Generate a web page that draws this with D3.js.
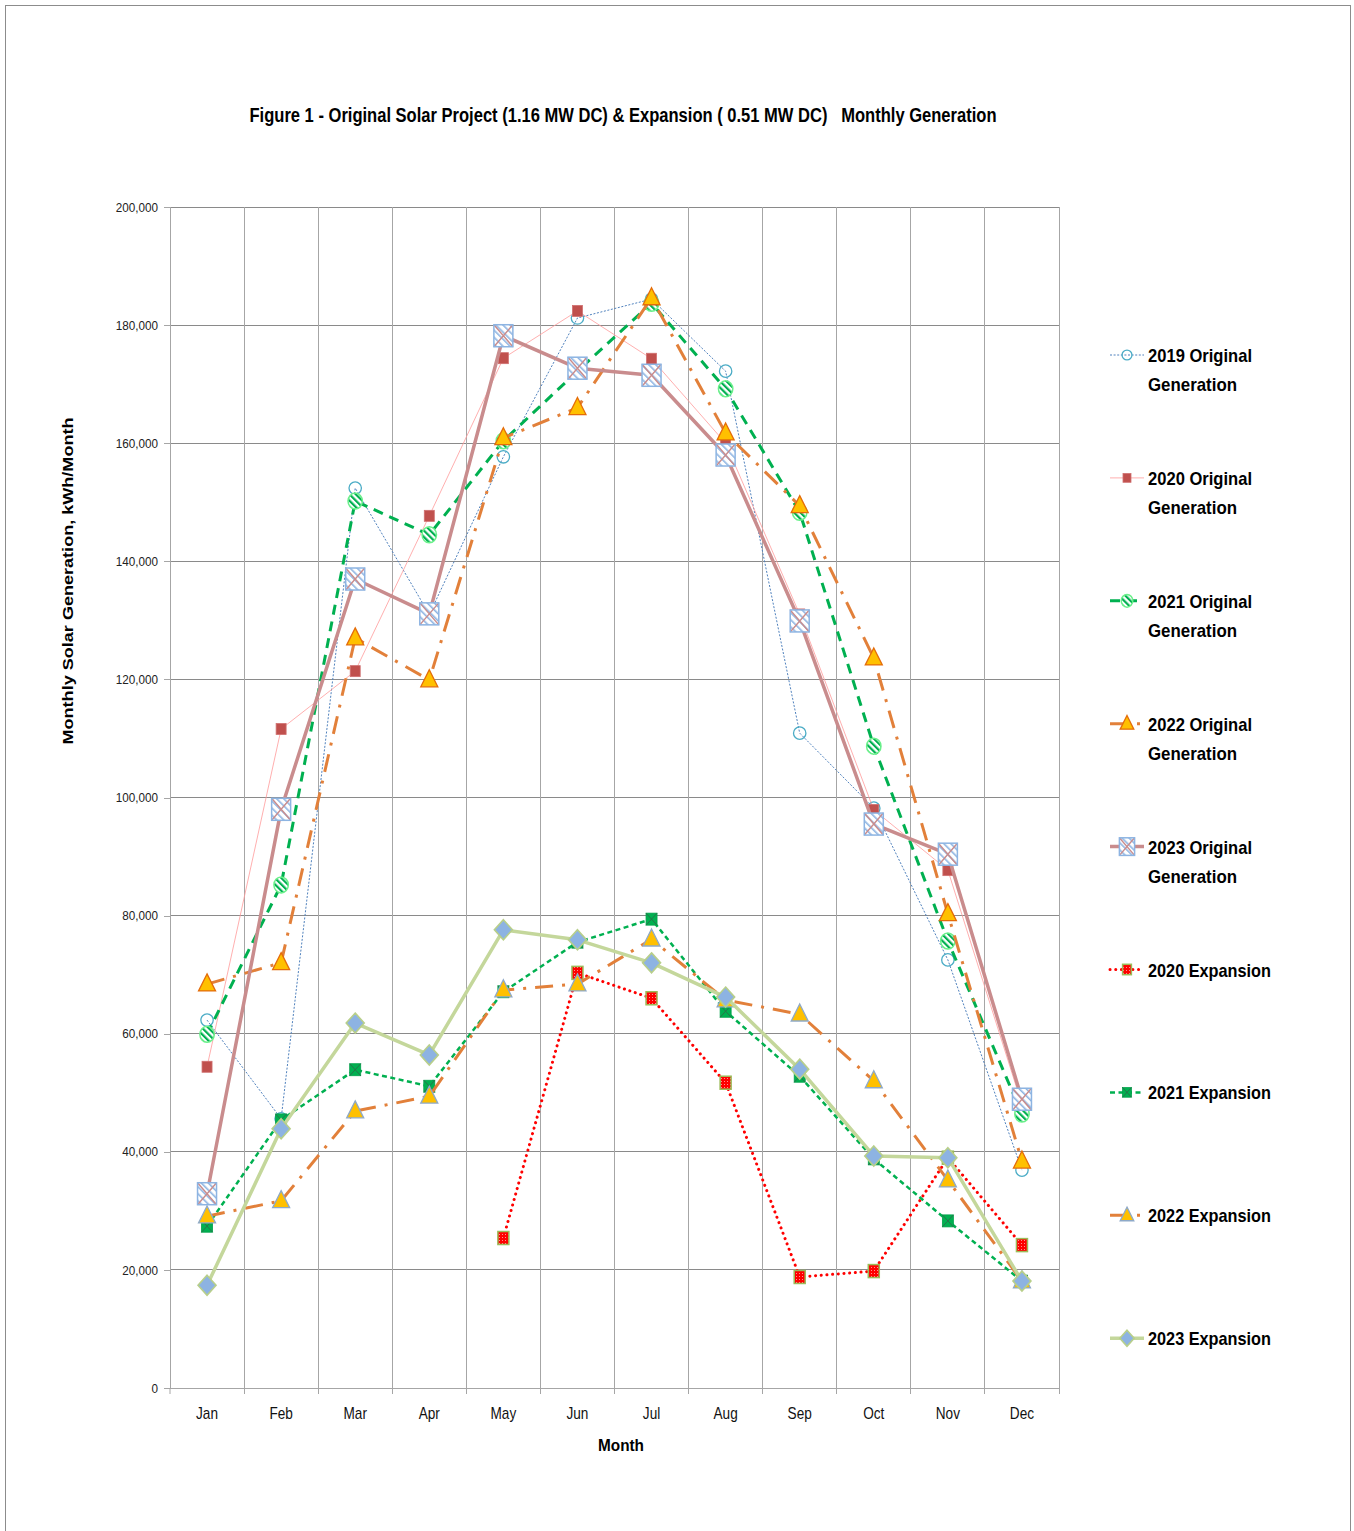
<!DOCTYPE html>
<html><head><meta charset="utf-8">
<script src="https://cdn.jsdelivr.net/npm/d3@7"></script>
<style>body{margin:0;background:#fff} svg{display:block}</style>
</head><body>
<svg id="chart" width="1354" height="1531"></svg>
<script>
// ---------- DATA ----------
const months = ["Jan","Feb","Mar","Apr","May","Jun","Jul","Aug","Sep","Oct","Nov","Dec"];
const yTicks = [0,20000,40000,60000,80000,100000,120000,140000,160000,180000,200000];
const orig2019 = [62300,45600,152400,131000,157700,181200,184400,172200,110900,98200,72500,36900];
const orig2020 = [54400,111600,121400,147700,174400,182400,174300,160000,131000,97900,87700,48000];
const orig2021 = [59900,85200,150200,144500,160400,172200,183700,169200,148300,108700,75700,46400];
const orig2022 = [68400,72000,127000,119900,160900,166000,184600,161700,149400,123600,80300,38400];
const orig2023 = [32900,98000,137000,131100,178200,172700,171500,158000,129900,95500,90400,48900];
const exp2020 = [null,null,null,null,25400,70300,66000,51700,18800,19800,39000,24200];
const exp2021 = [27400,45400,53900,51100,67100,75500,79400,63800,52800,38800,28300,18100];
const exp2022 = [29100,31700,46900,49400,67400,68400,76000,65700,63300,52000,35200,18100];
const exp2023 = [17400,43900,61800,56400,77600,75900,72000,66200,54000,39300,39000,18100];
const seriesNames = ["2019 Original Generation","2020 Original Generation","2021 Original Generation",
  "2022 Original Generation","2023 Original Generation","2020 Expansion","2021 Expansion",
  "2022 Expansion","2023 Expansion"];
const titleText = "Figure 1 - Original Solar Project (1.16 MW DC) & Expansion ( 0.51 MW DC)   Monthly Generation";
const xTitle = "Month";
const yTitle = "Monthly Solar Generation, kWh/Month";

// ---------- STYLES ----------
const styles = [
  {stroke:"#4f81bd", width:1, dash:"2,1.6", marker:"circle"},
  {stroke:"#ff9a9a", width:0.8, dash:null, marker:"redsq"},
  {stroke:"#00b050", width:3, dash:"10,7", marker:"hatchcircle"},
  {stroke:"#e2803a", width:3, dash:"18,9,3,9", marker:"triOrange"},
  {stroke:"#c98c8d", width:3.5, dash:null, marker:"hatchsq"},
  {stroke:"#ff0000", width:3, dash:"0.1,5.6", cap:"round", marker:"dotsq"},
  {stroke:"#00b050", width:2.5, dash:"5,3.5", marker:"greensq"},
  {stroke:"#e2803a", width:3, dash:"18,9,3,9", marker:"triBlue"},
  {stroke:"#c4d79b", width:3.5, dash:null, marker:"diamond"}
];
const allData = [orig2019,orig2020,orig2021,orig2022,orig2023,exp2020,exp2021,exp2022,exp2023];

const FONT = "'Liberation Sans Narrow','Liberation Sans',Arial,sans-serif";
const svg = d3.select("#chart");
const plot = {l:170, r:1059, t:207, b:1388};

// frame
svg.append("rect").attr("x",5.5).attr("y",5.5).attr("width",1345).attr("height",1540)
  .attr("fill","#fff").attr("stroke","#8c8c8c").attr("stroke-width",1);

// patterns
const defs = svg.append("defs");
const pg = defs.append("pattern").attr("id","hatchGreen").attr("patternUnits","userSpaceOnUse")
  .attr("width",4.5).attr("height",4.5).attr("patternTransform","rotate(-45)");
pg.append("rect").attr("width",4.5).attr("height",4.5).attr("fill","#fff");
pg.append("rect").attr("width",2.2).attr("height",4.5).attr("fill","#00b050");
const pb = defs.append("pattern").attr("id","hatchBlue").attr("patternUnits","userSpaceOnUse")
  .attr("width",5).attr("height",5).attr("patternTransform","rotate(-45)");
pb.append("rect").attr("width",5).attr("height",5).attr("fill","#fff");
pb.append("rect").attr("width",1.6).attr("height",5).attr("fill","#8db4e2");
const pd = defs.append("pattern").attr("id","dotRed").attr("patternUnits","userSpaceOnUse")
  .attr("width",3).attr("height",3);
pd.append("rect").attr("width",3).attr("height",3).attr("fill","#ff0000");
pd.append("rect").attr("x",1).attr("y",1).attr("width",1).attr("height",1).attr("fill","#ff9090");

// scales
const x = d3.scaleBand().domain(months).range([plot.l, plot.r]);
const y = d3.scaleLinear().domain([0,200000]).range([plot.b, plot.t]);
const cx = m => x(m) + x.bandwidth()/2;

// gridlines
const grid = svg.append("g");
grid.selectAll("line.h").data(yTicks.filter(d=>d>0)).join("line")
  .attr("x1",plot.l).attr("x2",plot.r).attr("y1",d=>y(d)).attr("y2",d=>y(d))
  .attr("stroke","#8a8a8a").attr("stroke-width",1).attr("shape-rendering","crispEdges");
grid.selectAll("line.v").data(months.slice(1).concat(["_end"])).join("line")
  .attr("x1",d=>d==="_end"?plot.r:x(d)).attr("x2",d=>d==="_end"?plot.r:x(d))
  .attr("y1",plot.t).attr("y2",plot.b+6)
  .attr("stroke","#a6a6a6").attr("stroke-width",1).attr("shape-rendering","crispEdges");

function narrow(sel, f) {
  sel.each(function(){ const w = this.getComputedTextLength();
    d3.select(this).attr("textLength", w*f).attr("lengthAdjust","spacingAndGlyphs"); });
}

// y axis
const yAxis = svg.append("g").attr("transform",`translate(${plot.l},0)`)
  .call(d3.axisLeft(y).tickValues(yTicks).tickSize(6).tickPadding(6).tickFormat(d3.format(",")));
yAxis.select(".domain").attr("stroke","#a6a6a6").attr("shape-rendering","crispEdges");
yAxis.selectAll(".tick line").attr("stroke","#a6a6a6").attr("shape-rendering","crispEdges");
yAxis.selectAll("text").attr("font-family",FONT).attr("font-size",13).attr("fill","#222");
narrow(yAxis.selectAll("text"), 0.9);

// x axis
const xAxis = svg.append("g").attr("transform",`translate(0,${plot.b})`)
  .call(d3.axisBottom(x).tickSize(0).tickPadding(19));
xAxis.select(".domain").attr("stroke","#a6a6a6").attr("shape-rendering","crispEdges");
xAxis.selectAll("text").attr("font-family",FONT).attr("font-size",17).attr("fill","#111");
narrow(xAxis.selectAll("text"), 0.8);
svg.append("line").attr("x1",plot.l).attr("x2",plot.l).attr("y1",plot.b).attr("y2",plot.b+6)
  .attr("stroke","#a6a6a6");

// titles
svg.append("text").attr("x",623).attr("y",122).attr("text-anchor","middle")
  .attr("font-family",FONT).attr("font-weight","bold").attr("font-size",20)
  .attr("textLength",747).attr("lengthAdjust","spacingAndGlyphs")
  .style("white-space","pre").attr("fill","#000").text(titleText);
svg.append("text").attr("x",621).attr("y",1451).attr("text-anchor","middle")
  .attr("font-family",FONT).attr("font-weight","bold").attr("font-size",17)
  .attr("textLength",46).attr("lengthAdjust","spacingAndGlyphs").attr("fill","#000").text(xTitle);
svg.append("text").attr("transform","translate(73,581) rotate(-90)").attr("text-anchor","middle")
  .attr("font-family","'Liberation Sans',Arial,sans-serif").attr("font-weight","bold").attr("font-size",14.5)
  .attr("textLength",327).attr("lengthAdjust","spacingAndGlyphs").attr("fill","#000").text(yTitle);

// markers
function drawMarker(g, type, px, py, scale=1) {
  const s = scale;
  switch(type) {
    case "circle":
      g.append("circle").attr("cx",px).attr("cy",py).attr("r",6.2*s)
        .attr("fill","none").attr("stroke","#4bacc6").attr("stroke-width",1.3); break;
    case "redsq":
      g.append("rect").attr("x",px-5*s).attr("y",py-5.5*s).attr("width",10*s).attr("height",11*s)
        .attr("fill","#c0504d").attr("stroke","#d07070").attr("stroke-width",0.8); break;
    case "hatchcircle":
      g.append("ellipse").attr("cx",px).attr("cy",py).attr("rx",7.2*s).attr("ry",8*s)
        .attr("fill","url(#hatchGreen)").attr("stroke","#6af08a").attr("stroke-width",1.5); break;
    case "triOrange":
    case "triBlue": {
      const w=8.5*s, h=17*s;
      g.append("path").attr("d",`M${px},${py-h*0.6}L${px+w},${py+h*0.4}L${px-w},${py+h*0.4}Z`)
        .attr("fill","#ffc000").attr("stroke",type==="triOrange"?"#e46c0a":"#8ea9c8").attr("stroke-width",1.3);
      break; }
    case "hatchsq": {
      const w=9.5*s, h=11*s;
      g.append("rect").attr("x",px-w).attr("y",py-h).attr("width",2*w).attr("height",2*h)
        .attr("fill","url(#hatchBlue)");
      g.append("path").attr("d",`M${px-w},${py-h}L${px+w},${py+h}M${px+w},${py-h}L${px-w},${py+h}`)
        .attr("stroke","#c98c8d").attr("stroke-width",1.4);
      g.append("rect").attr("x",px-w).attr("y",py-h).attr("width",2*w).attr("height",2*h)
        .attr("fill","none").attr("stroke","#8db4e2").attr("stroke-width",1.5);
      break; }
    case "dotsq":
      g.append("rect").attr("x",px-5.5*s).attr("y",py-6.5*s).attr("width",11*s).attr("height",13*s)
        .attr("fill","url(#dotRed)").attr("stroke","#9bbb59").attr("stroke-width",1.5); break;
    case "greensq": {
      const w=5.5*s, h=6*s;
      g.append("rect").attr("x",px-w).attr("y",py-h).attr("width",2*w).attr("height",2*h)
        .attr("fill","#00b050").attr("stroke","#00a04a").attr("stroke-width",0.8);
      g.append("path").attr("d",`M${px-w},${py-h}L${px+w},${py+h}M${px+w},${py-h}L${px-w},${py+h}`)
        .attr("stroke","#2e6b4a").attr("stroke-width",0.9);
      break; }
    case "diamond": {
      const w=9*s, h=10*s;
      g.append("path").attr("d",`M${px},${py-h}L${px+w},${py}L${px},${py+h}L${px-w},${py}Z`)
        .attr("fill","#8db3e2").attr("stroke","#b8cf8a").attr("stroke-width",1.6);
      break; }
  }
}

// series
const line = d3.line().defined(d=>d.v!=null).x(d=>cx(d.m)).y(d=>y(d.v));
allData.forEach((arr,i)=>{
  const st = styles[i];
  const g = svg.append("g");
  const pts = months.map((m,j)=>({m, v:arr[j]}));
  g.append("path").attr("d",line(pts)).attr("fill","none").attr("stroke",st.stroke)
    .attr("stroke-width",st.width).attr("stroke-dasharray",st.dash)
    .attr("stroke-linecap",st.cap||"butt").attr("stroke-linejoin","round");
  pts.filter(d=>d.v!=null).forEach(d=>drawMarker(g, st.marker, cx(d.m), y(d.v)));
});

// legend
const lg = svg.append("g");
seriesNames.forEach((name,i)=>{
  const ly = 355 + i*122.9;
  const st = styles[i];
  const g = lg.append("g");
  g.append("line").attr("x1",1110).attr("x2",1144).attr("y1",ly).attr("y2",ly)
    .attr("stroke",st.stroke).attr("stroke-width",st.width).attr("stroke-dasharray",st.dash)
    .attr("stroke-linecap",st.cap||"butt");
  drawMarker(g, st.marker, 1127, ly, 0.8);
  const parts = name.endsWith("Generation") ? [name.replace(" Generation",""),"Generation"] : [name];
  const widths = {"Generation":89};
  parts.forEach((p,k)=>{
    const tw = widths[p] || (p.includes("Expansion") ? 123 : 104);
    g.append("text").attr("x",1148).attr("y",ly+7+k*29)
      .attr("font-family",FONT).attr("font-weight","bold").attr("font-size",19)
      .attr("textLength",tw).attr("lengthAdjust","spacingAndGlyphs").attr("fill","#000").text(p);
  });
});
</script>
</body></html>
